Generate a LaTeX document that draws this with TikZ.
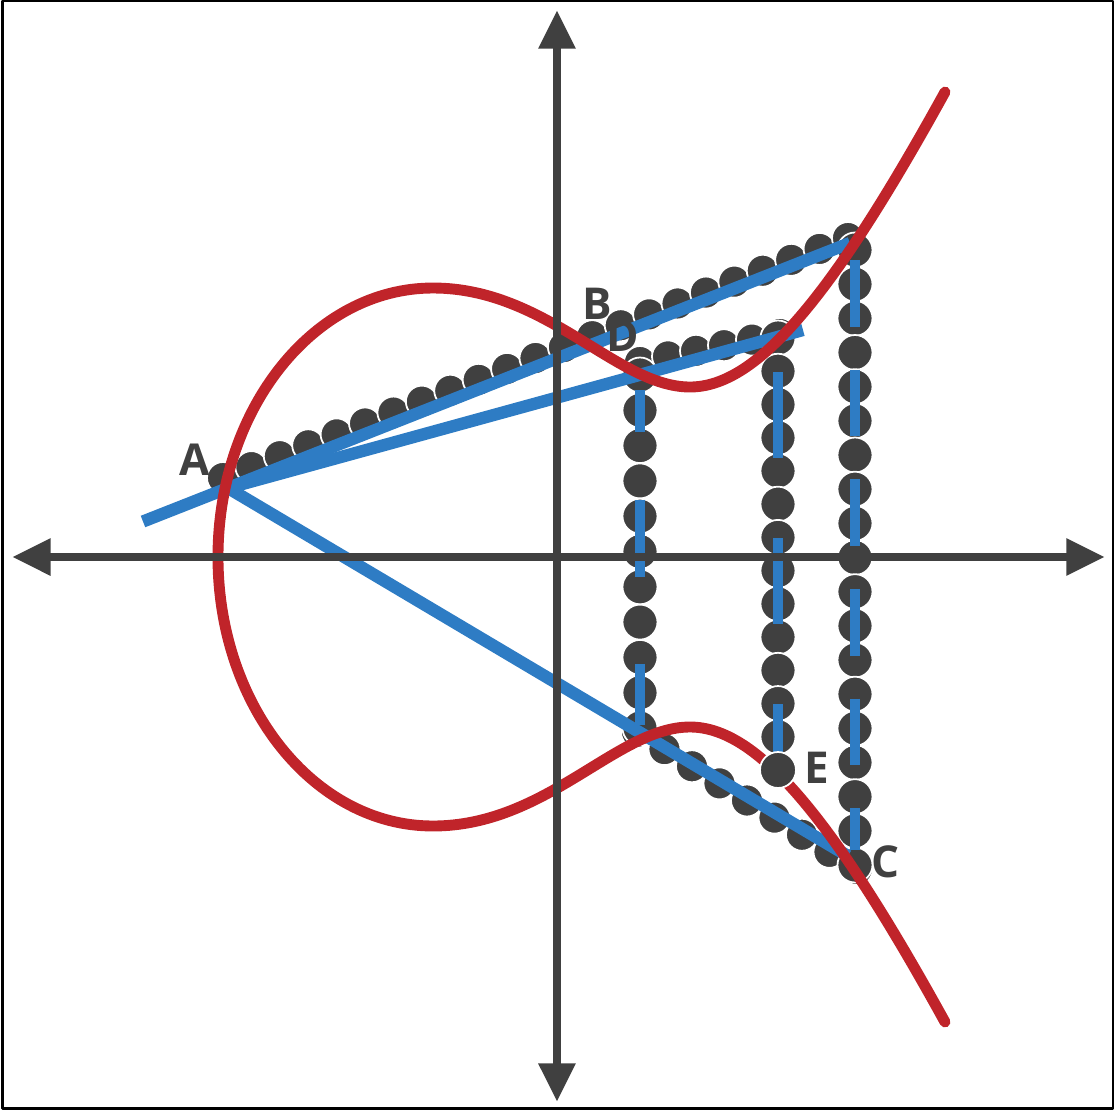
\documentclass[tikz,border=0pt]{standalone}
\usepackage{fontspec}
\setmainfont{Open Sans}
\usetikzlibrary{arrows.meta, calc}
\definecolor{curvered}{RGB}{192,36,42}
\definecolor{lineblue}{RGB}{46,124,196}
\definecolor{axisgray}{RGB}{64,64,64}

\begin{document}
\begin{tikzpicture}[line join=round,
    axisline/.style={axisgray, line width=2.5pt, {Triangle[length=11pt,width=10pt]}-{Triangle[length=11pt,width=10pt]}},
    bead/.style={fill=axisgray, draw=white, line width=0.5pt},
    chord/.style={lineblue, line width=3.5pt},
    vdash/.style={lineblue, line width=2.6pt},
    ecurve/.style={curvered, line width=3.1pt, line cap=round},
    lbl/.style={axisgray, font=\fontsize{12.5}{14}\selectfont\bfseries, inner sep=0pt}]
    % ---------------------------------------------------
    % frame (1 unit = 100 px of the picture)
    % ---------------------------------------------------
    \useasboundingbox (-5.57,-5.53) rectangle (5.59,5.57);
    \draw[black, line width=0.6pt] (-5.545,-5.515) rectangle (5.56,5.56);

    % points on the curve
    \coordinate (A) at (-3.29, 0.69);
    \coordinate (L) at (-4.14, 0.355);
    \coordinate (P) at (2.93, 3.14);
    \coordinate (Q) at (2.46, 2.27);
    \coordinate (C) at (2.91, -2.99);
    \coordinate (H) at (0.80, -1.72);

    % chains of beads along the chords
    \coordinate (c1a) at (-3.34, 0.79);
    \coordinate (c1b) at (2.91, 3.19);
    \coordinate (c2a) at (0.83, 1.95);
    \coordinate (c2b) at (2.23, 2.23);
    \coordinate (c3a) at (0.80, -1.75);
    \coordinate (c3b) at (3.00, -3.12);
    \foreach \i in {0,...,22}
        \filldraw[bead] ($(c1a)!{\i/22}!(c1b)$) circle (0.16);
    \foreach \i in {0,...,5}
        \filldraw[bead] ($(c2a)!{\i/5}!(c2b)$) circle (0.16);
    \foreach \i in {0,...,8}
        \filldraw[bead] ($(c3a)!{\i/8}!(c3b)$) circle (0.16);

    % vertical chains (reflections)
    \coordinate (v1a) at (0.83, 1.82);
    \coordinate (v1b) at (0.83, -1.71);
    \coordinate (v2a) at (2.21, 2.19);
    \coordinate (v2b) at (2.21, -2.13);
    \coordinate (v3a) at (2.98, 3.07);
    \coordinate (v3b) at (2.98, -3.08);
    \foreach \i in {0,...,10}
        \filldraw[bead] ($(v1a)!{\i/10}!(v1b)$) circle (0.175);
    \foreach \i in {0,...,12}
        \filldraw[bead] ($(v2a)!{\i/13}!(v2b)$) circle (0.175);
    \foreach \i in {0,...,18}
        \filldraw[bead] ($(v3a)!{\i/18}!(v3b)$) circle (0.175);

    % blue dashes over the vertical chains
    \draw[vdash, dash pattern=on 11.9pt off 19.3pt on 21.9pt off 25pt on 20pt] (0.83, 1.67) -- (0.83, -1.68);
    \draw[vdash, dash pattern=on 24.5pt off 22.8pt] (2.21, 1.85) -- (2.21, -2.03);
    \draw[vdash, dash pattern=on 19pt off 12.2pt] (2.98, 2.97) -- (2.98, -2.93);

    % chords
    \draw[chord] (L) -- (P);
    \draw[chord] (A) -- (Q);
    \draw[chord] (A) -- (C);

    % the curve: loop on the left, two branches on the right
    \draw[ecurve] (3.88,4.65)
        .. controls (2.75,2.60) and (2.00,1.70) .. (1.33,1.70)
        .. controls (0.60,1.70) and (-0.10,2.69) .. (-1.24,2.69)
        .. controls (-2.43,2.69) and (-3.39,1.485) .. (-3.39,0)
        .. controls (-3.39,-1.485) and (-2.43,-2.69) .. (-1.24,-2.69)
        .. controls (-0.10,-2.69) and (0.60,-1.70) .. (1.33,-1.70)
        .. controls (2.00,-1.70) and (2.75,-2.60) .. (3.88,-4.65);

    % end bead E
    \coordinate (Ept) at (2.21, -2.13);
    \filldraw[bead] (Ept) circle (0.18);

    % axes
    \draw[axisline] (-5.45,0) -- (5.48,0);
    \draw[axisline] (0,-5.45) -- (0,5.47);

    % labels
    \node[lbl] (labA) at (-3.62, 0.97) {A};
    \node[lbl] (labB) at (0.40, 2.53) {B};
    \node[lbl] (labD) at (0.66, 2.21) {D};
    \node[lbl] (labE) at (2.60, -2.11) {E};
    \node[lbl] (labC) at (3.29, -3.05) {C};
\end{tikzpicture}
\end{document}
